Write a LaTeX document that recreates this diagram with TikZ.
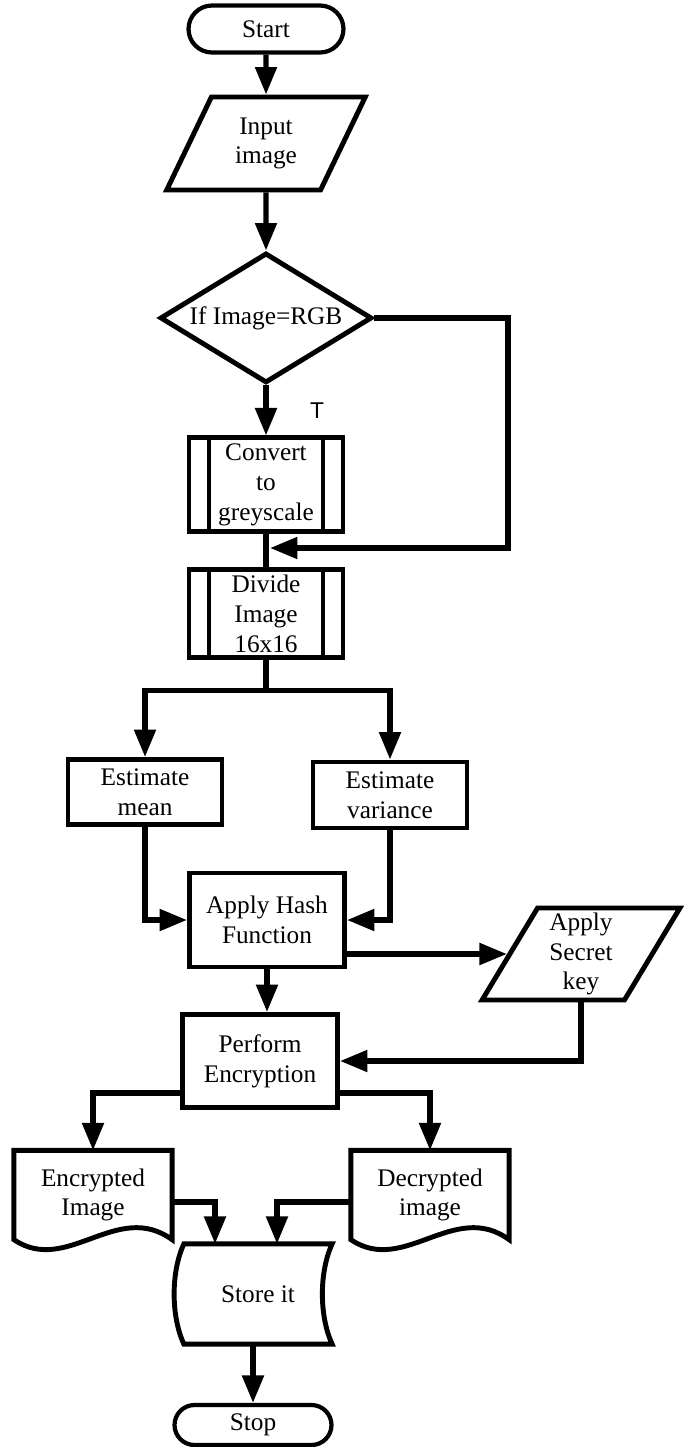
\documentclass[tikz,border=0pt]{standalone}
\usepackage{fontspec}
\setmainfont{Liberation Serif}
\newfontfamily\labelfont{Liberation Sans}
\usetikzlibrary{shapes.geometric,shapes.misc,arrows.meta}

\begin{document}
\begin{tikzpicture}[x=0.02cm, y=-0.02cm, >={Triangle[length=0.55cm,width=0.42cm]}, line width=3pt]
 \tikzstyle{every node}=[font=\fontsize{14.4}{17}\selectfont, align=center, inner sep=0pt]
 \tikzstyle{term}=[draw, rounded rectangle, line width=2.4pt, minimum width=3.1cm, minimum height=0.94cm]
 \tikzstyle{io}=[draw, trapezium, trapezium left angle=64, trapezium right angle=116, trapezium stretches=true, line width=2.8pt, minimum width=3.98cm, minimum height=1.86cm]
 \tikzstyle{decision}=[draw, diamond, aspect=1.63, line width=2.8pt, minimum width=4.24cm, minimum height=2.6cm]
 \tikzstyle{proc}=[draw, rectangle, line width=2.8pt, minimum width=3.08cm, minimum height=1.88cm]
 \tikzstyle{subproc}=[proc, path picture={\draw[line width=2.8pt] ([xshift=0.4cm]path picture bounding box.north west) -- ([xshift=0.4cm]path picture bounding box.south west) ([xshift=-0.4cm]path picture bounding box.north east) -- ([xshift=-0.4cm]path picture bounding box.south east);}]
 \tikzstyle{docbody}=[rectangle, minimum width=3.06cm, minimum height=1.68cm]
 \tikzstyle{tlabel}=[font=\labelfont\fontsize{13}{13}\selectfont]

 \useasboundingbox (0,0) rectangle (689,1447);

 \node[term] (start) at (266,29) {Start};
 \node[io] (input) [below of=start, node distance=2.29cm] {Input\\image};
 \node[decision] (ifrgb) [below of=input, node distance=3.49cm] {If Image=RGB};
 \node[subproc] (conv) [below of=ifrgb, node distance=3.34cm] {Convert\\to\\greyscale};
 \node[subproc, minimum height=1.76cm] (divide) [below of=conv, node distance=2.58cm] {Divide\\Image\\16x16};
 \node[proc, minimum height=1.3cm] (mean) at (145,792) {Estimate\\mean};
 \node[proc, minimum height=1.32cm] (var) at (390,795) {Estimate\\variance};
 \node[proc, minimum width=3.1cm] (hash) at (267,920) {Apply Hash\\Function};
 \node[io, minimum width=3.96cm, minimum height=1.84cm] (key) at (581,954) {Apply\\Secret\\key};
 \node[proc, minimum width=3.1cm, minimum height=1.86cm] (perf) at (260,1061) {Perform\\Encryption};
 \node[docbody] (enc) at (93,1195) {Encrypted\\Image};
 \node[docbody] (dec) at (430,1195) {Decrypted\\image};
 \node[rectangle, minimum width=2.86cm, minimum height=1.9cm] (store) at (258,1294) {Store it};
 \node[term, minimum width=3.14cm, minimum height=0.8cm] (stop) at (253,1425) {Stop};

 % document and stored data outlines
 \foreach \n in {enc,dec}
  \draw[line width=2.8pt] (\n.south west) -- (\n.north west) -- (\n.north east) -- (\n.south east) .. controls +(-55,-40) and +(53,36) .. (\n.south west) -- cycle;
 \draw[line width=2.8pt] (store.north west) -- (store.north east) .. controls +(-13,28) and +(-13,-28) .. (store.south east) -- (store.south west) .. controls +(-13,-28) and +(-13,28) .. (store.north west) -- cycle;

 \coordinate (rt) at (508,548);
 \coordinate (join) at (270,548);

 \draw[->] (start) -- (input);
 \draw[->] (input) -- (ifrgb);
 \draw[->] (ifrgb) -- node[tlabel, xshift=1.02cm] {T} (conv);
 \draw[->] (ifrgb.east) -| (rt) -- (join);
 \draw (conv) -- (divide);
 \draw[->] (divide.south) -- ++(0,30) -| (mean.north);
 \draw[->] (divide.south) -- ++(0,30) -| (var.north);
 \draw[->] (mean.south) |- (hash.west);
 \draw[->] (var.south) |- (hash.east);
 \draw[->] (hash.east |- key.west) -- (key.west);
 \draw[->] (hash.south) -- (hash.south |- perf.north);
 \draw[->] (key.south) |- (perf.east);
 \draw[->] ([yshift=-0.64cm]perf.west) -| (enc.north);
 \draw[->] ([yshift=-0.64cm]perf.east) -| (dec.north);
 \draw[->] ([yshift=-0.14cm]enc.east) -| ([xshift=-0.86cm]store.north);
 \draw[->] ([yshift=-0.14cm]dec.west) -| ([xshift=0.38cm]store.north);
 \draw[->] (stop.north |- store.south) -- (stop.north);
\end{tikzpicture}
\end{document}
